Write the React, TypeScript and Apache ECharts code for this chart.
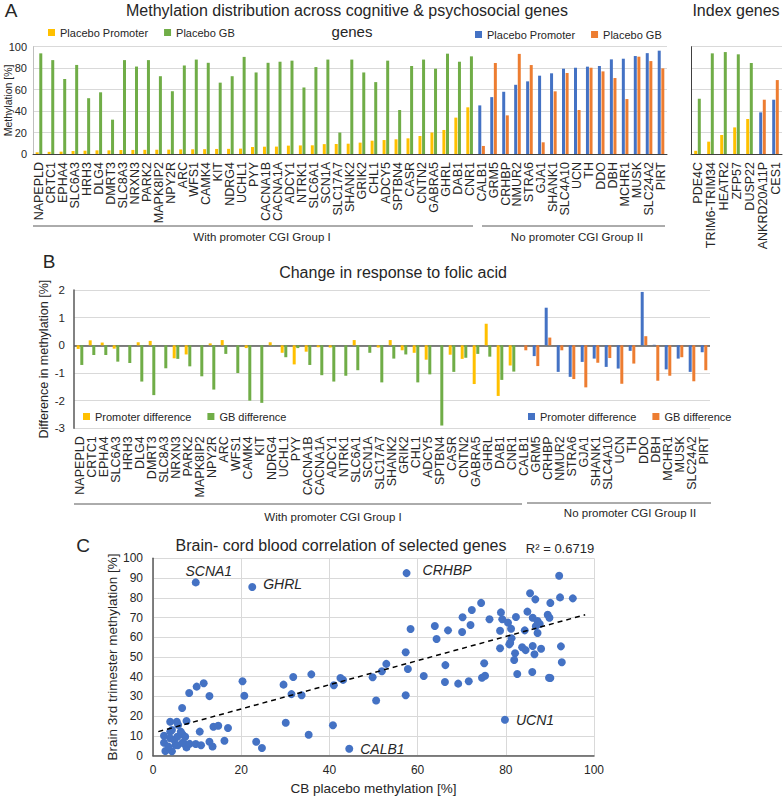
import React, { useEffect, useRef } from 'react';
import * as echarts from 'echarts';

// ---------- DATA ----------
const genesGroupI = ['NAPEPLD', 'CRTC1', 'EPHA4', 'SLC6A3', 'HRH3', 'DLG4', 'DMRT3', 'SLC8A3', 'NRXN3', 'PARK2', 'MAPK8IP2', 'NPY2R', 'ARC', 'WFS1', 'CAMK4', 'KIT', 'NDRG4', 'UCHL1', 'PYY', 'CACNA1B', 'CACNA1A', 'ADCY1', 'NTRK1', 'SLC6A1', 'SCN1A', 'SLC17A7', 'SHANK2', 'GRIK2', 'CHL1', 'ADCY5', 'SPTBN4', 'CASR', 'CNTN2', 'GABRA5', 'GHRL', 'DAB1', 'CNR1'];
const genesGroupII = ['CALB1', 'GRM5', 'CRHBP', 'NMUR2', 'STRA6', 'GJA1', 'SHANK1', 'SLC4A10', 'UCN', 'TH', 'DDO', 'DBH', 'MCHR1', 'MUSK', 'SLC24A2', 'PIRT'];
const indexGenes = ['PDE4C', 'TRIM6-TRIM34', 'HEATR2', 'ZFP57', 'DUSP22', 'ANKRD20A11P', 'CES1'];

const placeboPromoterI = [1.6, 2, 2.2, 2.8, 3.1, 3.4, 3.4, 3.7, 3.8, 3.9, 4, 4.1, 4.3, 4.4, 4.5, 4.7, 4.8, 5, 6.5, 6.8, 6.9, 7.8, 8, 8.1, 9.2, 9.3, 9.6, 10.6, 12.4, 13, 13.7, 14.6, 16.8, 20, 22.4, 33.9, 43.5];
const placeboGBI = [93.8, 87.5, 70, 83, 52, 57.5, 32, 87.5, 81.5, 87.5, 72.5, 58.5, 82.5, 88, 85, 66.5, 72.5, 90.5, 76, 85, 86, 87, 62, 81, 88, 20, 88, 76, 67, 87, 41, 82, 88, 79.5, 93.5, 86, 91];
const placeboPromoterII = [45.3, 53, 58, 64.5, 67.7, 73, 75.2, 79.5, 80.4, 81.4, 82, 88.2, 88.8, 91.3, 94, 96.3];
const placeboGBII = [7.5, 84.8, 36, 93.3, 82.9, 10.9, 58.4, 75.5, 41, 80.4, 77, 70.8, 51.2, 90.7, 86.6, 79.8];

const indexPromoterI = [3, 11.5, 17.7, 24.8, 32.6, 0, 0];
const indexGBI = [51.5, 93.8, 95, 92.9, 84.8, 0, 0];
const indexPromoterII = [0, 0, 0, 0, 0, 38.8, 50.6];
const indexGBII = [0, 0, 0, 0, 0, 50.6, 68.9];

const diffPromoterI = [-0.13, 0.18, 0.1, -0.12, 0, 0.11, 0.16, 0, -0.47, -0.33, 0, 0.07, 0.19, 0, -0.1, 0, 0.11, -0.27, -0.69, -0.23, -0.07, -0.08, 0, 0.19, 0, -0.08, 0.19, -0.18, -0.27, -0.52, 0, -0.34, -0.49, -1.4, 0.78, -1.83, -0.73];
const diffGBI = [-0.71, -0.35, -0.35, -0.59, -0.64, -1.31, -1.8, -0.83, -0.49, -0.76, -1.12, -1.6, -0.31, -1.0, -2.0, -2.08, -0.02, -0.43, -0.1, -0.71, -1.08, -1.31, -1.1, -0.9, -0.27, -1.34, -0.48, -0.33, -1.34, -1.05, -2.9, -0.96, -0.45, -0.31, -0.41, -1.25, -0.95];
const diffPromoterII = [0, -0.39, 1.36, -0.96, -1.14, -0.6, -0.48, -0.78, -0.84, -0.2, 1.93, 0.02, -0.87, -0.48, -0.96, -0.25];
const diffGBII = [-0.18, -0.75, 0.28, -0.18, -1.22, -1.52, -0.63, -0.46, -1.39, -0.66, 0.33, -1.28, -1.1, -0.43, -1.3, -0.9];

const scatterPoints: number[][] = [
  [2.5, 6.6], [2.8, 2.4], [2.5, 10.1], [3.9, 12.2], [4.3, 13], [3.9, 8.8], [4.8, 7.9], [5.1, 5.4], [4.3, 2.2], [3.5, 4.6],
  [5.5, 9.6], [5.6, 5.3], [6.3, 12.2], [6.7, 10.8], [7.3, 9.6], [7.2, 5.9], [7.6, 4.2], [6.7, 6.6], [8.3, 6.0], [5.7, 15.6],
  [5.4, 17.2], [3.9, 17.2], [7.6, 17.6], [6.6, 24.2], [8.2, 31.8], [9.9, 35], [11.5, 36.7], [12.8, 30.2], [10.6, 12.2], [13.7, 14.7],
  [14.8, 15.2], [17, 14], [16.2, 7.6], [12.8, 7.1], [13.5, 4.7], [9.7, 5.9], [10.9, 5.3],
  [20.3, 37.7], [20.7, 30.4], [23.4, 7.1], [24.7, 3.9], [29.6, 36], [31.8, 39.9], [35.9, 41.2], [31.4, 31.2], [33.7, 30.6],
  [30.1, 16.7], [35.3, 10.6], [41, 35.7], [40.8, 15.4], [42.5, 39.4], [43.1, 38.4], [49.8, 39.7], [51.9, 42.8], [52.9, 46.5],
  [50.6, 28], [58.4, 64.2], [57.3, 52.4], [57.8, 43.9], [57.3, 30.6],
  [92.1, 91.2], [85.5, 82.3], [86.7, 79.2], [92.3, 80.2], [95.2, 79.7], [90.1, 77.4], [74.4, 77.4], [72.3, 73.8], [84.9, 73],
  [78.9, 72.6], [70.2, 70.1], [76.3, 69.1], [79.2, 69.1], [80.5, 67.4], [82.3, 70.3], [86.1, 69.9], [89.5, 71.4], [89.9, 69.9],
  [87.2, 68.2], [87.7, 66.7], [86.8, 65.6], [63.9, 65.7], [66.9, 63.5], [70.1, 62.7], [72, 66.2], [78.7, 63.3], [81.2, 64.3],
  [84.3, 63.5], [87.2, 62.2], [64.3, 59.1], [81.3, 59.5], [80.8, 56.4], [78.7, 54.4], [83.7, 54.9], [86.1, 55.6], [88, 54.2],
  [92.5, 55.4], [81, 57.2], [84.5, 53.5], [82.1, 51.9], [81.9, 48.5], [86.5, 51.4], [92.7, 47.3], [90.1, 39.4], [66.3, 45.9],
  [75.1, 46.8], [61.4, 40.4], [66.2, 37.3], [69.2, 36.5], [71.6, 37.7], [74.6, 39.5], [75.3, 40.5], [82.6, 41.4], [86, 42.4],
  [89.8, 39.5],
];
const labelledNames = ['SCNA1', 'GHRL', 'CRHBP', 'CALB1', 'UCN1'];
const labelledValues: number[][] = [[9.7, 87.8], [22.5, 85.5], [57.5, 92.5], [44.5, 3.5], [79.8, 18.2]];
const trendLine: number[][] = [[1.2, 12.2], [98, 71.4]];
const rSquaredText = 'R² = 0.6719';

// ---------- STYLE ----------
const FONT = '"Liberation Sans", Arial, Helvetica, sans-serif';
const TXT = '#262626';
const GRID_LINE = '#d9d9d9';
const AXIS_DARK = '#595959';
const YELLOW = '#FFC000';
const GREEN = '#70AD47';
const BLUE = '#4472C4';
const ORANGE = '#ED7D31';

const genesAll = [...genesGroupI, ...genesGroupII];
const zI = genesGroupI.map(() => 0);
const zII = genesGroupII.map(() => 0);

function catAxis(gridIndex: number, data: string[], extra: any = {}) {
  return {
    type: 'category',
    gridIndex,
    data,
    axisTick: { show: false },
    axisLine: { show: true, lineStyle: { color: '#404040', width: 1 } },
    axisLabel: { rotate: 90, interval: 0, fontSize: 12.5, color: TXT, fontFamily: FONT, margin: 8 },
    splitLine: { show: false },
    ...extra,
  };
}

function bar(name: string, xi: number, stack: string, color: string, data: number[], extra: any = {}) {
  return {
    type: 'bar',
    name,
    xAxisIndex: xi,
    yAxisIndex: xi,
    stack,
    data,
    barWidth: 3,
    barGap: '20%',
    itemStyle: { color },
    ...extra,
  };
}

const legendBase = {
  icon: 'rect',
  itemWidth: 7,
  itemHeight: 7,
  itemGap: 16,
  padding: 0,
  orient: 'horizontal',
  textStyle: { fontSize: 11, color: TXT, fontFamily: FONT },
  formatter: (n: string) => n.split('|')[0],
  selectedMode: false,
};

function txt(text: string, x: number, y: number, size: number, extra: any = {}) {
  return {
    type: 'text',
    x,
    y,
    silent: true,
    style: { text, fill: TXT, font: `${size}px ${FONT}`, align: 'center', verticalAlign: 'middle', ...extra },
  };
}
function hline(x1: number, x2: number, y: number) {
  return { type: 'line', silent: true, shape: { x1, y1: y, x2, y2: y }, style: { stroke: AXIS_DARK, lineWidth: 1 } };
}

const labelPos: Record<string, any> = {
  SCNA1: { position: 'top', distance: 0, offset: [13, 0] },
  GHRL: { position: 'right', distance: 7, offset: [0, -3] },
  CRHBP: { position: 'right', distance: 12, offset: [0, -3] },
  CALB1: { position: 'right', distance: 7, offset: [0, 0] },
  UCN1: { position: 'right', distance: 7, offset: [0, 0] },
};

function buildOption() {
  const valueAxisCommon = {
    type: 'value',
    axisTick: { show: false },
    splitLine: { show: true, lineStyle: { color: GRID_LINE, width: 1 } },
    nameLocation: 'middle',
    nameRotate: 90,
    nameMoveOverlap: false,
  };
  return {
    animation: false,
    backgroundColor: '#ffffff',
    textStyle: { fontFamily: FONT },
    grid: [
      { left: 33, top: 46.7, width: 634, height: 107.3 },
      { left: 691, top: 46.7, width: 91, height: 107.3 },
      { left: 74, top: 290, width: 636, height: 138.3 },
      { left: 153, top: 558.3, width: 441, height: 197.4 },
    ].map((g) => ({ ...g, containLabel: false, outerBoundsMode: 'none' })),
    xAxis: [
      catAxis(0, genesAll),
      catAxis(1, indexGenes),
      catAxis(2, genesAll, { axisLine: { show: false, onZero: false } }),
      {
        type: 'value',
        gridIndex: 3,
        min: 0,
        max: 100,
        interval: 20,
        axisTick: { show: false },
        axisLine: { show: true, onZero: false, lineStyle: { color: AXIS_DARK, width: 1.5 } },
        splitLine: { show: true, lineStyle: { color: GRID_LINE } },
        axisLabel: { fontSize: 12, color: TXT, margin: 8, fontFamily: FONT },
        name: 'CB placebo methylation [%]',
        nameLocation: 'middle',
        nameGap: 26,
        nameTextStyle: { fontSize: 13.5, color: TXT, fontFamily: FONT },
      },
    ],
    yAxis: [
      {
        ...valueAxisCommon,
        gridIndex: 0,
        min: 0,
        max: 100,
        interval: 20,
        axisLine: { show: true, lineStyle: { color: '#bfbfbf' } },
        axisLabel: { fontSize: 11, color: TXT, margin: 6, fontFamily: FONT },
        name: 'Methylation [%]',
        nameGap: 20,
        nameTextStyle: { fontSize: 10.5, color: TXT, fontFamily: FONT },
      },
      {
        ...valueAxisCommon,
        gridIndex: 1,
        min: 0,
        max: 100,
        interval: 20,
        axisLine: { show: true, lineStyle: { color: '#404040' } },
        axisLabel: { show: false },
      },
      {
        ...valueAxisCommon,
        gridIndex: 2,
        min: -3,
        max: 2,
        interval: 1,
        axisLine: { show: true, onZero: false, lineStyle: { color: AXIS_DARK, width: 1.5 } },
        axisLabel: { fontSize: 11.5, color: TXT, margin: 9, fontFamily: FONT },
        name: 'Difference in methylation [%]',
        nameGap: 24,
        nameTextStyle: { fontSize: 12.5, color: TXT, fontFamily: FONT },
      },
      {
        ...valueAxisCommon,
        gridIndex: 3,
        min: 0,
        max: 100,
        interval: 10,
        axisLine: { show: true, onZero: false, lineStyle: { color: AXIS_DARK, width: 1.5 } },
        axisLabel: { fontSize: 12, color: TXT, margin: 10, fontFamily: FONT },
        name: 'Brain 3rd trimester methylation [%]',
        nameGap: 34,
        nameTextStyle: { fontSize: 13.5, color: TXT, fontFamily: FONT },
      },
    ],
    legend: [
      { ...legendBase, left: 48, top: 27, data: ['Placebo Promoter|I', 'Placebo GB|I'] },
      { ...legendBase, left: 475, top: 29, data: ['Placebo Promoter|II', 'Placebo GB|II'] },
      { ...legendBase, left: 83, top: 411, data: ['Promoter difference|I', 'GB difference|I'] },
      { ...legendBase, left: 528, top: 411, data: ['Promoter difference|II', 'GB difference|II'] },
    ],
    series: [
      // Panel A main
      bar('Placebo Promoter|I', 0, 'pA', YELLOW, [...placeboPromoterI, ...zII]),
      bar('Placebo Promoter|II', 0, 'pA', BLUE, [...zI, ...placeboPromoterII]),
      bar('Placebo GB|I', 0, 'gA', GREEN, [...placeboGBI, ...zII]),
      bar('Placebo GB|II', 0, 'gA', ORANGE, [...zI, ...placeboGBII]),
      // Panel A index genes
      bar('Index Promoter|I', 1, 'pI', YELLOW, indexPromoterI),
      bar('Index Promoter|II', 1, 'pI', BLUE, indexPromoterII),
      bar('Index GB|I', 1, 'gI', GREEN, indexGBI),
      bar('Index GB|II', 1, 'gI', ORANGE, indexGBII),
      // Panel B
      bar('Promoter difference|I', 2, 'pB', YELLOW, [...diffPromoterI, ...zII], {
        markLine: {
          silent: true,
          symbol: ['none', 'none'],
          label: { show: false },
          lineStyle: { color: AXIS_DARK, width: 1.5, type: 'solid' },
          data: [{ yAxis: 0 }],
          z: 1,
        },
      }),
      bar('Promoter difference|II', 2, 'pB', BLUE, [...zI, ...diffPromoterII]),
      bar('GB difference|I', 2, 'gB', GREEN, [...diffGBI, ...zII]),
      bar('GB difference|II', 2, 'gB', ORANGE, [...zI, ...diffGBII]),
      // Panel C
      {
        type: 'line',
        name: 'trend',
        xAxisIndex: 3,
        yAxisIndex: 3,
        data: trendLine,
        showSymbol: false,
        symbol: 'none',
        silent: true,
        lineStyle: { color: '#000000', width: 1.5, type: [5, 4] },
        z: 3,
      },
      {
        type: 'scatter',
        name: 'genes',
        xAxisIndex: 3,
        yAxisIndex: 3,
        symbolSize: 8,
        itemStyle: { color: BLUE, opacity: 1 },
        data: scatterPoints,
        z: 2,
      },
      {
        type: 'scatter',
        name: 'labelled',
        xAxisIndex: 3,
        yAxisIndex: 3,
        symbolSize: 8,
        itemStyle: { color: BLUE, opacity: 1 },
        data: labelledNames.map((n, i) => ({
          name: n,
          value: labelledValues[i],
          label: {
            show: true,
            formatter: '{b}',
            fontSize: 14,
            fontStyle: 'italic',
            color: TXT,
            fontFamily: FONT,
            ...labelPos[n],
          },
        })),
        z: 2,
      },
    ],
    graphic: [
      txt('A', 11, 10, 19),
      txt('Methylation distribution across cognitive & psychosocial genes', 347, 10, 16),
      txt('genes', 352, 31, 15),
      txt('Index genes', 736, 10, 16),
      hline(33, 473, 226),
      hline(482, 665, 226),
      txt('With promoter CGI Group I', 262, 237, 11.5),
      txt('No promoter CGI Group II', 577, 237, 11.5),
      txt('B', 49, 261, 19),
      txt('Change in response to folic acid', 393, 272, 16),
      hline(74, 522, 504),
      hline(527, 711, 503),
      txt('With promoter CGI Group I', 333, 517, 11.5),
      txt('No promoter CGI Group II', 630, 513, 11.5),
      txt('C', 83, 545, 19),
      txt('Brain- cord blood correlation of selected genes', 341, 545, 16),
      txt(rSquaredText, 560, 548, 13),
    ],
  };
}

export default function App() {
  const ref = useRef<HTMLDivElement>(null);
  useEffect(() => {
    document.body.style.margin = '0';
    const chart = echarts.init(ref.current as HTMLDivElement, null, { renderer: 'svg' });
    chart.setOption(buildOption() as any);
    return () => chart.dispose();
  }, []);
  return <div ref={ref} style={{ width: 784, height: 796, background: '#ffffff' }} />;
}
